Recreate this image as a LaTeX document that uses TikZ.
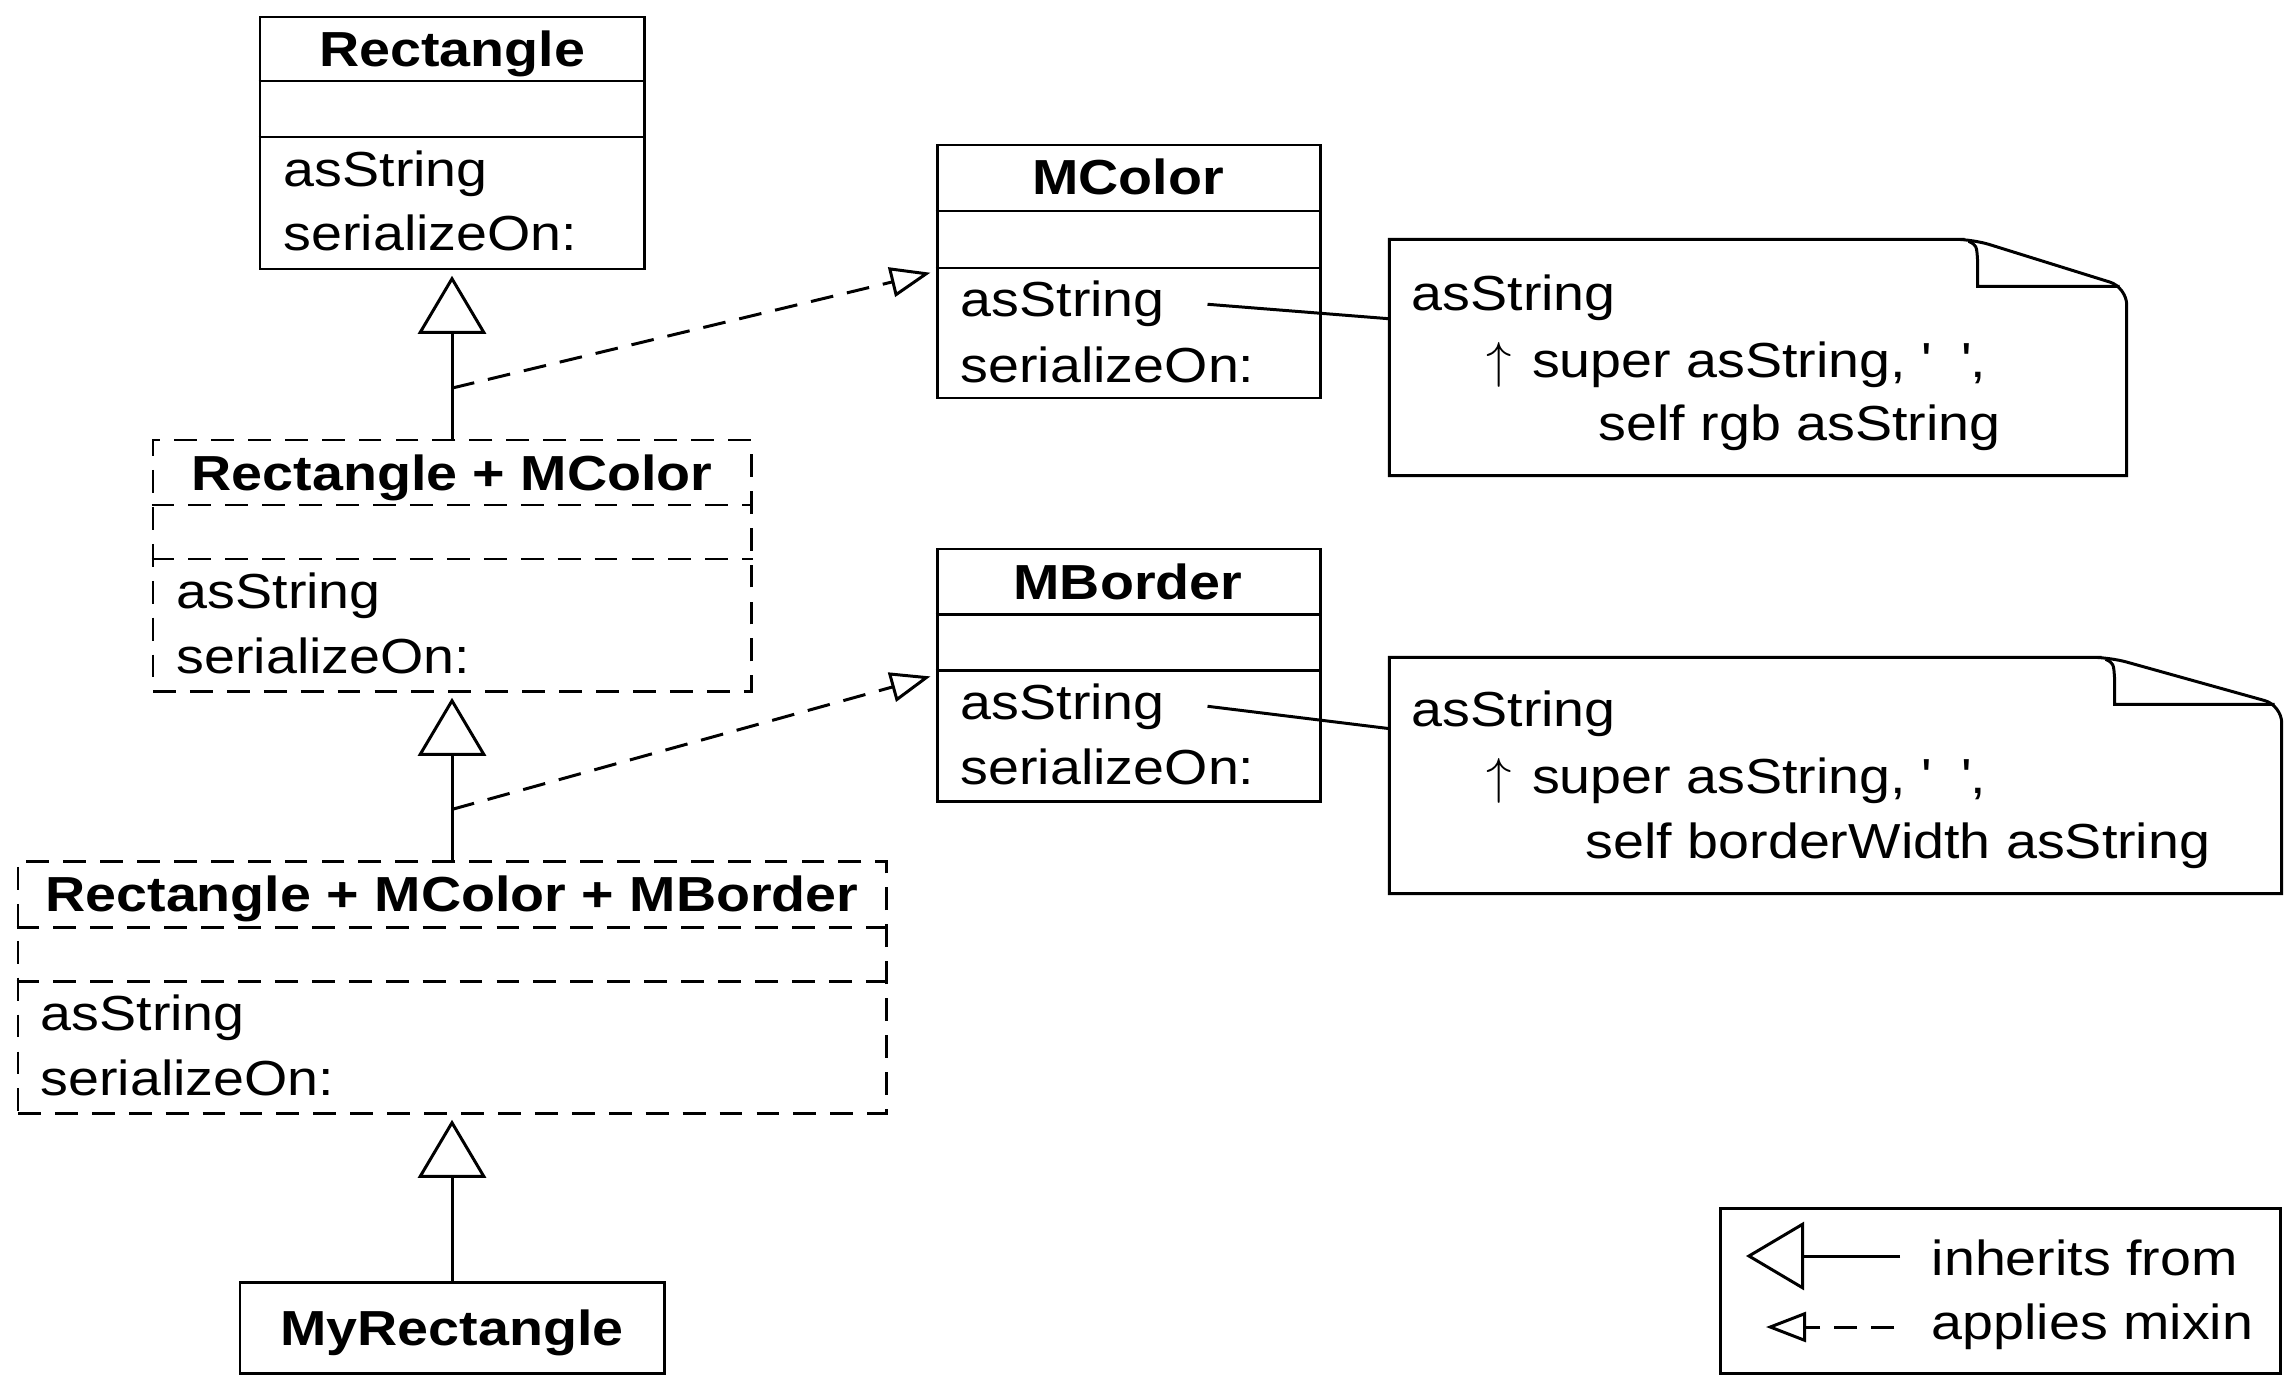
\documentclass[tikz,border=0pt]{standalone}
\usepackage{fontspec}
\setmainfont{Liberation Sans}[FakeStretch=1.13]
\usetikzlibrary{arrows.meta,fit}

\newcommand\umlfont{\fontsize{14pt}{18.8pt}\selectfont}

\tikzset{
  rule/.style={line width=0.85pt},
  classbox/.style={draw, rule, inner sep=0pt},
  mixedbox/.style={classbox, dash pattern=on 6.5pt off 4pt},
  ctitle/.style={anchor=base, inner sep=0pt, font=\umlfont\bfseries},
  member/.style={anchor=base west, inner sep=0pt, font=\umlfont},
  inherit/.style={rule, -{Triangle[open, length=0.58cm, width=0.68cm]}, shorten >=1.5pt},
  mixin/.style={rule, dash pattern=on 6.5pt off 4pt, -{Triangle[open, length=0.4cm, width=0.3cm]}, shorten >=1.5pt},
}

\begin{document}
\begin{tikzpicture}[x=0.01cm, y=-0.01cm]

    \useasboundingbox (0,0) rectangle (2285,1376);

    % Rectangle
    \node[classbox, fit={(260,17) (644,269)}] (rect) {};
    \draw[rule] (rect.west |- 0,81) -- (rect.east |- 0,81);
    \draw[rule] (rect.west |- 0,137) -- (rect.east |- 0,137);
    \node[ctitle] (rect-name) at (452,67) {Rectangle};
    \node[member] (rect-m1) at (283,186) {asString};
    \node[member] (rect-m2) at (283,251) {serializeOn:};

    % Rectangle + MColor
    \node[mixedbox, fit={(153,440) (751,691)}] (rmc) {};
    \draw[mixedbox] (rmc.west |- 0,505) -- (rmc.east |- 0,505);
    \draw[mixedbox] (rmc.west |- 0,559) -- (rmc.east |- 0,559);
    \node[ctitle] (rmc-name) at (452,490) {Rectangle + MColor};
    \node[member] (rmc-m1) at (176,608) {asString};
    \node[member] (rmc-m2) at (176,673) {serializeOn:};

    % Rectangle + MColor + MBorder
    \node[mixedbox, fit={(18,861) (886,1113)}] (rmcb) {};
    \draw[mixedbox] (rmcb.west |- 0,927) -- (rmcb.east |- 0,927);
    \draw[mixedbox] (rmcb.west |- 0,981) -- (rmcb.east |- 0,981);
    \node[ctitle] (rmcb-name) at (452,911) {Rectangle + MColor + MBorder};
    \node[member] (rmcb-m1) at (40,1030) {asString};
    \node[member] (rmcb-m2) at (40,1095) {serializeOn:};

    % MyRectangle
    \node[classbox, fit={(240,1282) (664,1373)}] (myrect) {};
    \node[ctitle] (myrect-name) at (452,1345) {MyRectangle};

    % MColor
    \node[classbox, fit={(937,145) (1320,398)}] (mcolor) {};
    \draw[rule] (mcolor.west |- 0,211) -- (mcolor.east |- 0,211);
    \draw[rule] (mcolor.west |- 0,268) -- (mcolor.east |- 0,268);
    \node[ctitle] (mcolor-name) at (1128,195) {MColor};
    \node[member] (mcolor-m1) at (960,317) {asString};
    \node[member] (mcolor-m2) at (960,382) {serializeOn:};

    % MBorder
    \node[classbox, fit={(937,549) (1320,801)}] (mborder) {};
    \draw[rule] (mborder.west |- 0,614) -- (mborder.east |- 0,614);
    \draw[rule] (mborder.west |- 0,670) -- (mborder.east |- 0,670);
    \node[ctitle] (mborder-name) at (1128,599) {MBorder};
    \node[member] (mborder-m1) at (960,719) {asString};
    \node[member] (mborder-m2) at (960,784) {serializeOn:};

    % notes
    \node[inner sep=0pt, fit={(1390,240) (2126,475)}] (note1) {};
    \draw[rule] (note1.south west) -- (note1.north west) -- ([xshift=-1.62cm]note1.north east)
        [rounded corners=5pt] -- ([xshift=-1.54cm]note1.north east) -- ([yshift=-0.48cm]note1.north east) [sharp corners]
        -- (note1.south east) -- cycle;
    \draw[rule] ([xshift=-1.58cm, yshift=-0.02cm]note1.north east)
        .. controls ([xshift=-1.5cm, yshift=-0.06cm]note1.north east) .. ([xshift=-1.49cm, yshift=-0.22cm]note1.north east)
        -- ([xshift=-1.49cm, yshift=-0.47cm]note1.north east) -- ([xshift=-0.07cm, yshift=-0.47cm]note1.north east);
    \node[member] (note1-l1) at (1411,310) {asString};
    \node[member] (note1-l2) at (1486,377) {$\uparrow$\hspace{0.2cm}super asString, \textquotesingle\hspace{0.3cm}\textquotesingle,};
    \node[member] (note1-l3) at (1598,440) {self rgb asString};

    \node[inner sep=0pt, fit={(1390,658) (2281,893)}] (note2) {};
    \draw[rule] (note2.south west) -- (note2.north west) -- ([xshift=-1.8cm]note2.north east)
        [rounded corners=5pt] -- ([xshift=-1.72cm]note2.north east) -- ([yshift=-0.48cm]note2.north east) [sharp corners]
        -- (note2.south east) -- cycle;
    \draw[rule] ([xshift=-1.76cm, yshift=-0.02cm]note2.north east)
        .. controls ([xshift=-1.68cm, yshift=-0.06cm]note2.north east) .. ([xshift=-1.67cm, yshift=-0.22cm]note2.north east)
        -- ([xshift=-1.67cm, yshift=-0.47cm]note2.north east) -- ([xshift=-0.07cm, yshift=-0.47cm]note2.north east);
    \node[member] (note2-l1) at (1411,726) {asString};
    \node[member] (note2-l2) at (1486,793) {$\uparrow$\hspace{0.2cm}super asString, \textquotesingle\hspace{0.3cm}\textquotesingle,};
    \node[member] (note2-l3) at (1585,858) {self borderWidth asString};

    \draw[rule] ([xshift=0.42cm]mcolor-m1.east) -- (note1.174);
    \draw[rule] ([xshift=0.42cm]mborder-m1.east) -- (note2.174);

    % inheritance and mixins
    \draw[inherit] (rmc.north) -- coordinate[pos=0.3] (mixa) (rect.south);
    \draw[inherit] (rmcb.north) -- coordinate[pos=0.3] (mixb) (rmc.south);
    \draw[inherit] (myrect.north) -- (rmcb.south);
    \draw[mixin] (mixa) -- (mcolor.west);
    \draw[mixin] (mixb) -- (mborder.west);

    % legend
    \node[classbox, fit={(1720,1208) (2280,1373)}] (legend) {};
    \coordinate (inh-a) at (1900,1256);
    \coordinate (inh-b) at (1746,1256);
    \draw[inherit, shorten >=0pt] (inh-a) -- (inh-b);
    \node[member] (inh-txt) at (1931,1275) {inherits from};
    \coordinate (mix-a) at (1894,1327);
    \coordinate (mix-b) at (1766,1327);
    \draw[mixin, shorten >=0pt] (mix-a) -- (mix-b);
    \node[member] (mix-txt) at (1931,1339) {applies mixin};

\end{tikzpicture}
\end{document}
